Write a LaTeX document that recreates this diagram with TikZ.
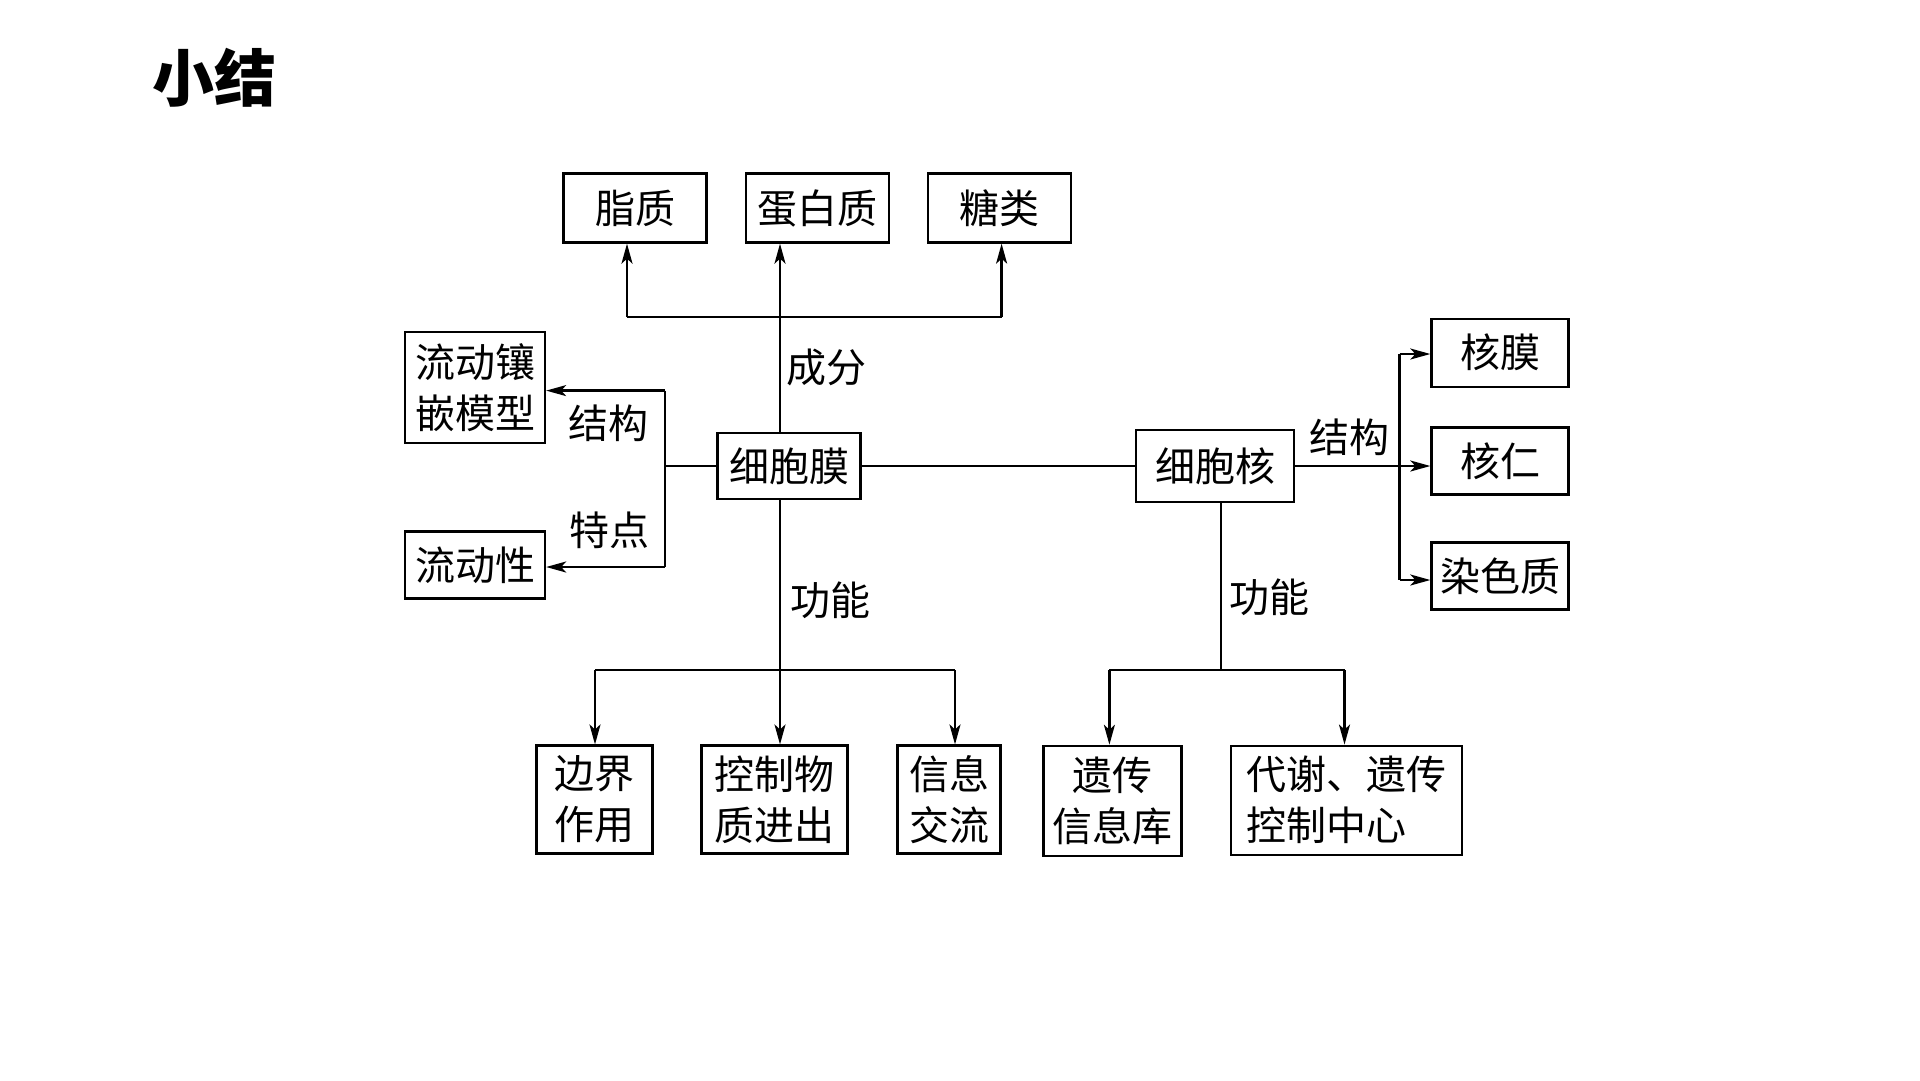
\documentclass[tikz,border=0pt]{standalone}
\usepackage{fontspec}
\newfontfamily\cjk{Noto Sans CJK SC}
\usetikzlibrary{arrows.meta}
\begin{document}
\begin{tikzpicture}[x=1pt,y=-1pt,
  box/.style={draw, line width=2.3pt, inner sep=0pt, align=center, font=\cjk\fontsize{40}{51}\selectfont},
  lbl/.style={inner sep=0pt, font=\cjk\fontsize{40}{51}\selectfont},
  conn/.style={line width=2.3pt},
  arr/.style={line width=2.3pt, -{Stealth[length=20pt,width=11pt,inset=5pt]}}]
\fill[white] (0,0) rectangle (1920,1080);
\useasboundingbox (0,0) rectangle (1920,1080);

\node[font=\cjk\bfseries\fontsize{62}{62}\selectfont, inner sep=0pt] (title) at (214,78) {小结};

% top row
\node[box, minimum width=143pt, minimum height=69pt] (zz) at (635,208) {脂质};
\node[box, minimum width=143pt, minimum height=69pt] (dbz) at (817.4,208) {蛋白质};
\node[box, minimum width=143pt, minimum height=69pt] (tl) at (999.8,208) {糖类};

% membrane & nucleus
\node[box, minimum width=143pt, minimum height=66pt] (mem) at (789,466) {细胞膜};
\node[box, minimum width=158pt, minimum height=72pt] (nuc) at (1215.3,466) {细胞核};

% left
\node[box, minimum width=140pt, minimum height=111pt] (ldx) at (475,387.5) {流动镶\\嵌模型};
\node[box, minimum width=140pt, minimum height=67pt] (ldxing) at (475,565) {流动性};

% right
\node[box, minimum width=137pt, minimum height=68pt] (hm) at (1500,352.7) {核膜};
\node[box, minimum width=137pt, minimum height=67pt] (hr) at (1500,461) {核仁};
\node[box, minimum width=137pt, minimum height=67pt] (rsz) at (1500,576) {染色质};

% bottom
\node[box, minimum width=116pt, minimum height=108pt] (bj) at (594.5,799.6) {边界\\作用};
\node[box, minimum width=146pt, minimum height=108pt] (kz) at (774.5,799.6) {控制物\\质进出};
\node[box, minimum width=103pt, minimum height=108pt] (xx) at (949,799.6) {信息\\交流};
\node[box, minimum width=138pt, minimum height=110pt] (yc) at (1112.5,800.9) {遗传\\信息库};
\node[box, minimum width=231pt, minimum height=109pt, align=left] (dx) at (1346.3,800.2) {代谢、遗传\\控制中心};

% labels
\node[lbl] (cf) at (826.5,367.4) {成分};
\node[lbl] (jgL) at (608.6,423.7) {结构};
\node[lbl] (td) at (609.8,530.2) {特点};
\node[lbl] (gn1) at (830.2,600) {功能};
\node[lbl] (jgR) at (1349.4,437.1) {结构};
\node[lbl] (gn2) at (1269.8,597.6) {功能};

% top connectors
\coordinate (tb1) at (627,317);
\coordinate (tb2) at (780,317);
\coordinate (tb3) at (1001.6,317);
\draw[conn] (tb1) -- (tb3);
\draw[arr] (tb1) -- (tb1 |- zz.south);
\draw[arr] (mem.north -| tb2) -- (tb2 |- dbz.south);
\draw[arr] (tb3) -- (tb3 |- tl.south);

% left connectors
\coordinate (lj) at (664.9,466);
\coordinate (la) at (664.9,390.6);
\coordinate (lb) at (664.9,567);
\draw[conn] (mem.west) -- (lj);
\draw[conn] (la) -- (lb);
\draw[arr] (la) -- (la -| ldx.east);
\draw[arr] (lb) -- (lb -| ldxing.east);

% middle
\draw[conn] (mem.east) -- (nuc.west);

% right connectors
\coordinate (ra) at (1399.6,354);
\coordinate (rb) at (1399.6,580);
\draw[conn] (ra) -- (rb);
\draw[arr] (nuc.east) -- (nuc.east -| hr.west);
\draw[arr] (ra) -- (ra -| hm.west);
\draw[arr] (rb) -- (rb -| rsz.west);

% bottom membrane
\coordinate (mb1) at (595,670);
\coordinate (mb2) at (780,670);
\coordinate (mb3) at (955,670);
\draw[conn] (mb1) -- (mb3);
\draw[conn] (mem.south -| mb2) -- (mb2);
\draw[arr] (mb1) -- (mb1 |- bj.north);
\draw[arr] (mb2) -- (mb2 |- kz.north);
\draw[arr] (mb3) -- (mb3 |- xx.north);

% bottom nucleus
\coordinate (nb1) at (1109.4,670);
\coordinate (nbc) at (1220.8,670);
\coordinate (nb2) at (1344.5,670);
\draw[conn] (nb1) -- (nb2);
\draw[conn] (nuc.south -| nbc) -- (nbc);
\draw[arr] (nb1) -- (nb1 |- yc.north);
\draw[arr] (nb2) -- (nb2 |- dx.north);
\end{tikzpicture}
\end{document}
